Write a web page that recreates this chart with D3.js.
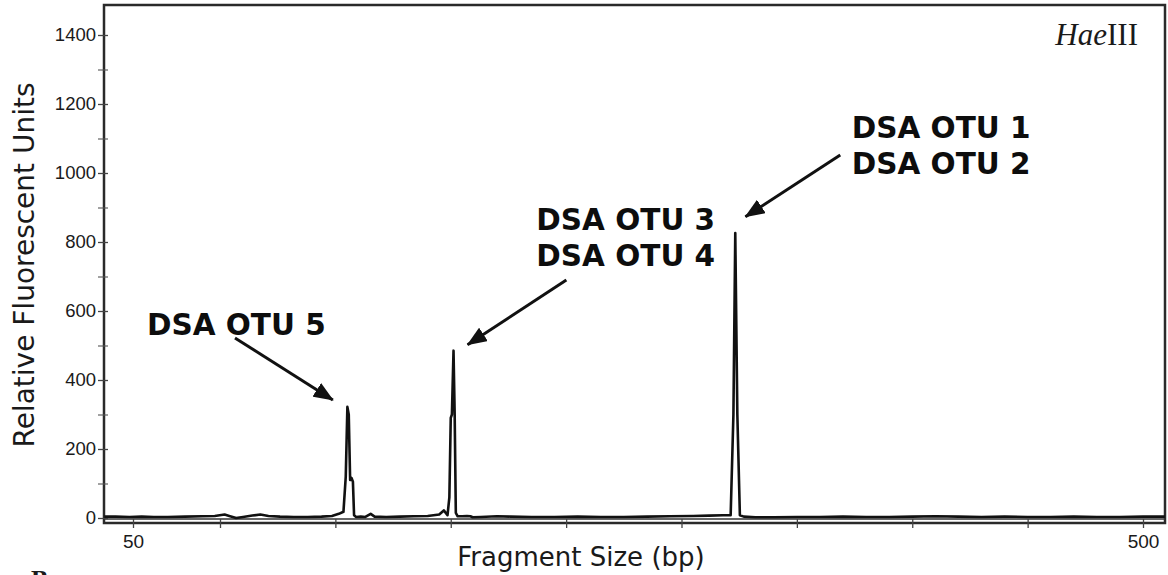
<!DOCTYPE html>
<html>
<head>
<meta charset="utf-8">
<script src="https://cdn.jsdelivr.net/npm/d3@7"></script>
<style>
  html, body { margin: 0; padding: 0; background: #fff; }
  svg { display: block; }
</style>
</head>
<body>
<svg id="chart" width="1168" height="575"></svg>
<script>
// ---- data ----
const sizes = [33.5, 40, 48, 55, 62, 70, 80, 90, 97, 102, 104, 107, 110, 114, 117.5, 121, 126, 132, 138, 144,
  148.5, 151.5, 153.5, 154.5, 155.2, 155.8, 156.4, 157.0, 157.6, 158.1, 159, 161, 163, 165.3, 167, 172, 178, 184, 190,
  195, 197, 198.6, 199.4, 200.0, 200.5, 201.2, 201.7, 202.2, 203, 205, 207, 208.5, 209.5, 213, 220, 226, 235, 245,
  255, 265, 275, 285, 295, 305, 312, 318, 321.3, 322.5, 323.3, 324.2, 325.3, 327, 332, 340, 350, 360, 370, 380, 390,
  400, 410, 420, 430, 440, 450, 460, 470, 480, 490, 500, 509.5];
const rfu = [4, 4, 3, 4, 3, 3, 4, 5, 6, 10, 6, 0, 3, 7, 10, 6, 4, 3, 3, 4,
  6, 12, 18, 120, 322, 300, 110, 116, 105, 8, 3, 4, 3, 12, 4, 3, 4, 5, 6,
  10, 22, 8, 60, 290, 300, 485, 300, 15, 5, 5, 6, 5, 2, 3, 5, 4, 3, 3,
  4, 3, 3, 4, 5, 6, 7, 8, 8, 300, 826, 300, 8, 4, 2, 2, 3, 3, 4, 3, 3,
  4, 5, 4, 3, 4, 3, 3, 4, 3, 3, 4, 4];

const xTickValues = [50, 100, 150, 200, 250, 300, 350, 400, 450, 500];
const xTickLabels = ["50", "", "", "", "", "", "", "", "", "500"];
const yMajorTicks = [0, 200, 400, 600, 800, 1000, 1200, 1400];
const yTickLabels = ["0", "200", "400", "600", "800", "1000", "1200", "1400"];
const yMinorTicks = [100, 300, 500, 700, 900, 1100, 1300];

const annLines = [["DSA OTU 5"], ["DSA OTU 3", "DSA OTU 4"], ["DSA OTU 1", "DSA OTU 2"]];
const annTextAt = [[58.0, 530], [237.1, 835], [373.8, 1102]];       // [bp, rfu] of first baseline
const arrowFrom = [[106.5, 522], [250.1, 690], [368.8, 1052]];      // [bp, rfu]
const arrowTo = [[148.9, 342], [207.3, 502], [327.7, 873]];         // [bp, rfu]

const xTitle = "Fragment Size (bp)";
const yTitle = "Relative Fluorescent Units";

// ---- drawing ----
const svg = d3.select("#chart");
const frame = { left: 104, right: 1165, top: 5, bottom: 523 };

// sizing calibration is not linear below 100 bp: piecewise scale
const x = d3.scaleLinear().domain([50, 100, 500]).range([133, 220, 1143]);
const y = d3.scaleLinear().domain([0, 1400]).range([518, 35]);

const ink = "#1a1a1a";

// frame
svg.append("rect")
  .attr("x", frame.left).attr("y", frame.top)
  .attr("width", frame.right - frame.left).attr("height", frame.bottom - frame.top)
  .attr("fill", "none").attr("stroke", "#2a2a2a").attr("stroke-width", 2.5);

// x axis (inner line + ticks)
const xAxis = d3.axisBottom(x).tickValues(xTickValues)
  .tickFormat((d, i) => xTickLabels[i]).tickSize(9).tickPadding(6);
const gx = svg.append("g").attr("transform", `translate(0,${519})`).call(xAxis);
gx.select(".domain").attr("d", `M${frame.left},0H${frame.right}`).attr("stroke", "#333").attr("stroke-width", 1.6);
gx.selectAll(".tick line").attr("stroke", "#444").attr("stroke-width", 1.3);
gx.selectAll(".tick text").attr("font-family", "'Liberation Sans', Arial, sans-serif")
  .attr("font-size", 19).attr("fill", ink).attr("dy", "0.75em");

// y axis
const yAxis = d3.axisLeft(y).tickValues(yMajorTicks)
  .tickFormat((d, i) => yTickLabels[i]).tickSize(6).tickPadding(5);
const gy = svg.append("g").attr("transform", `translate(${frame.left},0)`).call(yAxis);
gy.select(".domain").remove();
gy.selectAll(".tick line").attr("x1", 4).attr("x2", -6).attr("stroke", "#444").attr("stroke-width", 1.3);
gy.selectAll(".tick text").attr("font-family", "'Liberation Sans', Arial, sans-serif")
  .attr("font-size", 18.5).attr("fill", ink).attr("x", -8);
const yMinor = d3.axisLeft(y).tickValues(yMinorTicks).tickFormat("").tickSize(6);
const gym = svg.append("g").attr("transform", `translate(${frame.left},0)`).call(yMinor);
gym.select(".domain").remove();
gym.selectAll(".tick line").attr("x1", 4).attr("x2", -6).attr("stroke", "#555").attr("stroke-width", 1.1);

// trace
const pts = sizes.map((s, i) => [s, rfu[i]]);
svg.append("path")
  .datum(pts)
  .attr("fill", "none")
  .attr("stroke", "#111")
  .attr("stroke-width", 2.6)
  .attr("stroke-linejoin", "round")
  .attr("d", d3.line().x(d => x(d[0])).y(d => y(d[1])));

// axis titles
svg.append("text")
  .attr("x", 581).attr("y", 566)
  .attr("text-anchor", "middle")
  .attr("font-family", "'DejaVu Sans', Verdana, sans-serif").attr("font-size", 26)
  .attr("fill", ink).text(xTitle);

svg.append("text")
  .attr("transform", `translate(34,${265}) rotate(-90)`)
  .attr("text-anchor", "middle")
  .attr("font-family", "'DejaVu Sans', Verdana, sans-serif").attr("font-size", 28)
  .attr("fill", ink).text(yTitle);

// enzyme label
const hae = svg.append("text")
  .attr("x", 1138).attr("y", 45).attr("text-anchor", "end")
  .attr("font-family", "'Liberation Serif', 'Times New Roman', serif").attr("font-size", 31)
  .attr("fill", ink);
hae.append("tspan").attr("font-style", "italic").text("Hae");
hae.append("tspan").text("III");

// panel letter (cut off at the bottom, as in the reference)
svg.append("text")
  .attr("x", 31).attr("y", 588)
  .attr("font-family", "'Liberation Serif', 'Times New Roman', serif").attr("font-weight", "bold")
  .attr("font-size", 26).attr("fill", ink).text("B");

// arrows
svg.append("defs").append("marker")
  .attr("id", "head").attr("viewBox", "0 0 20 16")
  .attr("refX", 19).attr("refY", 8)
  .attr("markerWidth", 20).attr("markerHeight", 16)
  .attr("markerUnits", "userSpaceOnUse")
  .attr("orient", "auto")
  .append("path").attr("d", "M0,0L20,8L0,16Z").attr("fill", "#111");

arrowFrom.forEach((f, i) => {
  const t = arrowTo[i];
  svg.append("line")
    .attr("x1", x(f[0])).attr("y1", y(f[1]))
    .attr("x2", x(t[0])).attr("y2", y(t[1]))
    .attr("stroke", "#111").attr("stroke-width", 3)
    .attr("marker-end", "url(#head)");
});

// annotation text
annLines.forEach((lines, i) => {
  const t = svg.append("text")
    .attr("x", x(annTextAt[i][0])).attr("y", y(annTextAt[i][1]))
    .attr("font-family", "'DejaVu Sans', Verdana, sans-serif")
    .attr("font-weight", "bold").attr("font-size", 29.5).attr("fill", "#0d0d0d");
  lines.forEach((s, j) => {
    t.append("tspan").attr("x", x(annTextAt[i][0])).attr("dy", j === 0 ? 0 : 36).text(s);
  });
});
</script>
</body>
</html>
